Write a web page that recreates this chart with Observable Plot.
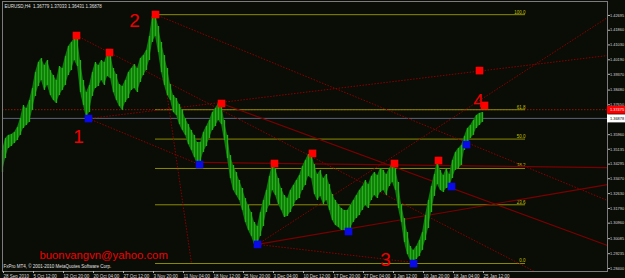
<!DOCTYPE html>
<html><head><meta charset="utf-8">
<script src="https://cdn.jsdelivr.net/npm/d3@7"></script>
<script src="https://cdn.jsdelivr.net/npm/@observablehq/plot@0.6"></script>
<style>
html,body{margin:0;padding:0;background:#0a0c06;}
#chart svg{display:block}
</style></head><body><div id="chart"></div>
<script>
// EURUSD H4 — sampled every 3 bars (high / low)
const SAMPLE_BARS = 3;
const seriesHigh = [1.3507,1.3574,1.3592,1.3597,1.3608,1.3636,1.3687,1.3761,1.3744,1.3789,
1.3857,1.3947,1.4004,1.4026,1.3987,1.4015,1.3958,1.3930,1.3902,1.3981,
1.3970,1.4038,1.4094,1.4117,1.4139,1.4139,1.4015,1.3902,1.3834,1.3874,
1.3947,1.4004,1.3987,1.4015,1.4004,1.4055,1.4060,1.3970,1.3936,1.3879,
1.3868,1.3902,1.3947,1.3970,1.3992,1.3970,1.4026,1.4043,1.4072,1.4151,
1.4264,1.4275,1.4207,1.4117,1.4043,1.3970,1.3879,1.3817,1.3800,1.3766,
1.3733,1.3687,1.3653,1.3620,1.3592,1.3552,1.3552,1.3608,1.3642,1.3676,
1.3721,1.3744,1.3772,1.3766,1.3676,1.3592,1.3478,1.3422,1.3382,1.3337,
1.3292,1.3235,1.3196,1.3156,1.3100,1.3077,1.3156,1.3224,1.3281,1.3360,
1.3427,1.3405,1.3348,1.3292,1.3252,1.3235,1.3281,1.3309,1.3337,1.3365,
1.3416,1.3450,1.3484,1.3490,1.3427,1.3371,1.3394,1.3348,1.3371,1.3314,
1.3258,1.3224,1.3201,1.3179,1.3168,1.3168,1.3196,1.3224,1.3252,1.3281,
1.3303,1.3337,1.3314,1.3360,1.3382,1.3365,1.3405,1.3394,1.3371,1.3405,
1.3433,1.3405,1.3326,1.3201,1.3122,1.3043,1.2964,1.2942,1.2964,1.2998,
1.3043,1.3139,1.3224,1.3303,1.3371,1.3450,1.3394,1.3365,1.3405,1.3371,
1.3450,1.3495,1.3518,1.3535,1.3586,1.3631,1.3648,1.3676,1.3704,1.3716,
1.3721];
const seriesLow = [1.3382,1.3461,1.3518,1.3529,1.3546,1.3563,1.3592,1.3631,1.3648,1.3665,
1.3733,1.3812,1.3868,1.3902,1.3846,1.3874,1.3817,1.3789,1.3772,1.3817,
1.3846,1.3874,1.3930,1.3958,1.4015,1.3981,1.3834,1.3761,1.3687,1.3721,
1.3812,1.3857,1.3868,1.3902,1.3874,1.3925,1.3913,1.3834,1.3789,1.3755,
1.3733,1.3778,1.3800,1.3846,1.3857,1.3834,1.3891,1.3930,1.3958,1.4015,
1.4117,1.4151,1.4060,1.3947,1.3874,1.3817,1.3789,1.3721,1.3704,1.3653,
1.3620,1.3592,1.3540,1.3507,1.3467,1.3427,1.3439,1.3495,1.3529,1.3574,
1.3620,1.3642,1.3676,1.3653,1.3563,1.3461,1.3348,1.3281,1.3252,1.3224,
1.3168,1.3100,1.3055,1.3021,1.2976,1.2970,1.3021,1.3077,1.3156,1.3196,
1.3281,1.3252,1.3201,1.3168,1.3128,1.3134,1.3156,1.3190,1.3224,1.3235,
1.3281,1.3309,1.3360,1.3348,1.3258,1.3224,1.3247,1.3201,1.3224,1.3168,
1.3111,1.3083,1.3072,1.3055,1.3055,1.3043,1.3066,1.3100,1.3122,1.3139,
1.3168,1.3196,1.3179,1.3224,1.3252,1.3235,1.3269,1.3281,1.3252,1.3303,
1.3326,1.3281,1.3179,1.3100,1.2987,1.2919,1.2885,1.2874,1.2891,1.2908,
1.2942,1.2998,1.3066,1.3156,1.3247,1.3314,1.3281,1.3269,1.3292,1.3297,
1.3348,1.3394,1.3405,1.3422,1.3507,1.3535,1.3574,1.3592,1.3631,1.3648,
1.3665];

// time axis
const dateLabels = ["28 Sep 2010","5 Oct 12:00","12 Oct 20:00","20 Oct 04:00","27 Oct 12:00","3 Nov 20:00","11 Nov 04:00","18 Nov 12:00","25 Nov 20:00","3 Dec 04:00","10 Dec 12:00","17 Dec 20:00","27 Dec 04:00","3 Jan 12:00","10 Jan 20:00","18 Jan 04:00","25 Jan 12:00"];
const dateTickBars = [0,30,60,90,120,150,180,210,240,270,300,330,360,390,420,450,480];

// price axis
const priceTicks = [1.42695,1.41860,1.41030,1.40190,1.39370,1.38480,1.37650,1.35960,1.35135,1.34295,1.33470,1.32630,1.31790,1.30960,1.30085,1.29235,1.28400];

// Fibonacci retracement
const fibHigh = 1.4274, fibLow = 1.2868;
const fibStartBar = 153, fibEndBar = 523;
const fibRatios = [1, 0.618, 0.5, 0.382, 0.236, 0];
const fibLabels = ["100.0","61.8","50.0","38.2","23.6","0.0"];

// fractals
const upBars = [74,107,153,219,272,310,392,436,477,482];
const upPrices = [1.4156,1.4060,1.4275,1.3772,1.3433,1.3490,1.3433,1.3450,1.3958,1.3761];
const downBars = [86,197,255,346,411,449,464];
const downPrices = [1.3687,1.3427,1.2976,1.3049,1.2868,1.3303,1.3540];

// wave labels
const waveLabels = ["1","2","3","4"];
const waveBars = [76,132,383,476];
const wavePrices = [1.3586,1.4241,1.2891,1.3789];

// trend lines [bar1, price1, bar2, price2]
const dottedLines = [
  [153,1.4275,605,1.3224],
  [74,1.4156,532,1.2823],
  [86,1.3687,605,1.4043],
  [153,1.4275,189,1.2868],
  [86,1.3687,197,1.3427],
  [255,1.2976,411,1.2874],
  [255,1.2976,605,1.4258]
];
const solidLines = [
  [197,1.3439,605,1.3410],
  [219,1.3772,605,1.2970],
  [255,1.2976,605,1.3314]
];
const redLevel = 1.3737, redLevelText = "1.37475";
const bidLevel = 1.3688, bidLevelText = "1.36878";
const headerText = "EURUSD,H4  1.36779 1.37033 1.36431 1.36878";
const copyrightText = "FxPro MT4, © 2001-2010 MetaQuotes Software Corp.";
const emailText = "buonvangvn@yahoo.com";

// ---------------------------------------------------------------
const bars = seriesHigh.map((h, i) => ({bar: i * SAMPLE_BARS, high: h, low: seriesLow[i]}));
const fib = fibRatios.map((r, i) => ({price: fibLow + r * (fibHigh - fibLow), label: fibLabels[i]}));
const ups = upBars.map((b, i) => ({bar: b, price: upPrices[i]}));
const downs = downBars.map((b, i) => ({bar: b, price: downPrices[i]}));
const waves = waveLabels.map((t, i) => ({t, bar: waveBars[i], price: wavePrices[i]}));
const toSeg = a => ({x1: a[0], y1: a[1], x2: a[2], y2: a[3]});
const labelOf = new Map(dateTickBars.map((b, i) => [b, dateLabels[i]]));

const FONT = "Liberation Sans, Arial, sans-serif";
const chart = Plot.plot({
  width: 625, height: 278,
  marginTop: 1, marginBottom: 7, marginLeft: 2, marginRight: 18,
  style: {background: "#0a0c06", color: "#d8d8d8", fontFamily: FONT, fontSize: "4.5px"},
  x: {domain: [0, 605], axis: null},
  y: {domain: [1.28229, 1.43484], axis: null},
  marks: [
    Plot.ruleY([bidLevel], {stroke: "#5a6478", strokeWidth: 1}),
    Plot.ruleY([redLevel], {stroke: "#8a1a0a", strokeDasharray: "1.5,1.5"}),
    Plot.ruleY(fib, {y: "price", x1: fibStartBar, x2: fibEndBar, stroke: "#8c8c00"}),
    Plot.text(fib, {x: fibEndBar, y: "price", text: "label", textAnchor: "end", dy: -2.5, fill: "#c0c000", fontSize: 4.5}),
    Plot.link(dottedLines.map(toSeg), {x1: "x1", y1: "y1", x2: "x2", y2: "y2", stroke: "#8a0000", strokeDasharray: "1.5,1.5"}),
    Plot.link(solidLines.map(toSeg), {x1: "x1", y1: "y1", x2: "x2", y2: "y2", stroke: "#7a0000", strokeWidth: 1.2}),
    Plot.areaY(bars, {x: "bar", y1: "low", y2: "high", fill: "#0f7a0b"}),
    Plot.ruleX(bars, {x: "bar", y1: "low", y2: "high", stroke: "#25b01a", strokeWidth: 1.3}),
    Plot.dot(ups, {x: "bar", y: "price", symbol: "square", r: 4.3, fill: "#ff0000"}),
    Plot.dot(downs, {x: "bar", y: "price", symbol: "square", r: 4.3, fill: "#0a0ae8"}),
    Plot.text(waves, {x: "bar", y: "price", text: "t", fill: "#f00000", fontSize: 19, fontFamily: FONT}),
    Plot.frame({stroke: "#7c7c7c"}),
    Plot.axisY(priceTicks, {anchor: "right", tickSize: 2, tickPadding: 0.5, stroke: "#bbb", fill: "#d8d8d8", fontSize: 3.9, tickFormat: d => d.toFixed(5)}),
    Plot.axisX(dateTickBars, {anchor: "bottom", tickSize: 2, tickPadding: 1, stroke: "#bbb", fill: "#d8d8d8", fontSize: 4.5, textAnchor: "start", dx: 1, tickFormat: d => labelOf.get(d)}),
    Plot.ruleY([{p: redLevel}], {y: "p", x1: 605, x2: 623, stroke: "#ff0000", strokeWidth: 8}),
    Plot.text([{p: redLevel, t: redLevelText}], {y: "p", x: 607.5, text: "t", textAnchor: "start", fill: "#ffffff", fontSize: 3.9}),
    Plot.ruleY([{p: bidLevel}], {y: "p", x1: 605, x2: 623, stroke: "#ffffff", strokeWidth: 8}),
    Plot.text([{p: bidLevel, t: bidLevelText}], {y: "p", x: 607.5, text: "t", textAnchor: "start", fill: "#000000", fontSize: 3.9}),
    Plot.text([headerText], {frameAnchor: "top-left", dx: 2, dy: 3, fill: "#e0e0e0", fontSize: 4.5}),
    Plot.text([copyrightText], {frameAnchor: "bottom-left", dx: 1, dy: -4, fill: "#e0e0e0", fontSize: 4.5}),
    Plot.text([emailText], {frameAnchor: "bottom-left", dx: 37, dy: -13, fill: "#f00000", fontSize: 11.3})
  ]
});
document.getElementById("chart").appendChild(chart);
</script></body></html>
